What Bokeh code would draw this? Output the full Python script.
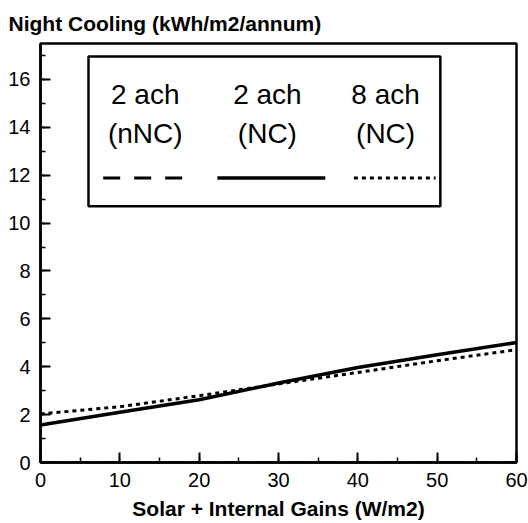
from bokeh.plotting import figure
from bokeh.models import Range1d, SingleIntervalTicker, BoxAnnotation, ColumnDataSource
from bokeh.core.properties import value
from bokeh.embed import file_html
from bokeh.resources import INLINE

# ---- data ----
gains = [0, 10, 20, 30, 40, 50, 60]
cooling_2ach_nnc = [0, 0, 0, 0, 0, 0, 0]
cooling_2ach_nc = [1.57, 2.1, 2.62, 3.32, 3.97, 4.5, 5.01]
cooling_8ach_nc = [2.03, 2.33, 2.79, 3.28, 3.76, 4.25, 4.71]

legend_top = ["2 ach", "2 ach", "8 ach"]
legend_bottom = ["(nNC)", "(NC)", "(NC)"]

# ---- layout of the hand-drawn key (data units) ----
key_box = dict(left=6.05, right=50.4, top=16.96, bottom=10.7)
key_col_x = [13.2, 28.6, 43.5]
key_row1_y = 15.36
key_row2_y = 13.76
key_line_y = 11.88
key_seg = [(7.9, 18.0), (22.3, 35.9), (39.5, 49.8)]

FONT = "Liberation Sans"

p = figure(width=528, height=523, output_backend="svg", toolbar_location=None,
           x_range=Range1d(0, 60), y_range=Range1d(0, 17.5),
           min_border_left=40, min_border_right=12, min_border_top=42,
           min_border_bottom=61)

p.title.text = "Night Cooling (kWh/m2/annum)"
p.title.text_font = FONT
p.title.text_font_size = "21px"
p.title.text_font_style = "bold"
p.title.text_color = "black"
p.title.align = "left"
p.title.offset = -32
p.title.standoff = 18

p.xgrid.visible = False
p.ygrid.visible = False
p.outline_line_color = "black"
p.outline_line_width = 2.5
p.outline_line_alpha = 1.0
p.background_fill_color = "white"
p.border_fill_color = "white"

for ax in (p.xaxis[0], p.yaxis[0]):
    ax.axis_line_width = 2.5
    ax.axis_line_color = "black"
    ax.major_tick_in = 10
    ax.major_tick_out = 0
    ax.minor_tick_in = 5
    ax.minor_tick_out = 0
    ax.major_tick_line_width = 2
    ax.minor_tick_line_width = 1.5
    ax.major_tick_line_color = "black"
    ax.minor_tick_line_color = "black"
    ax.major_label_text_font = FONT
    ax.major_label_text_font_size = "20px"
    ax.major_label_text_color = "black"

p.xaxis[0].ticker = SingleIntervalTicker(interval=10, num_minor_ticks=2)
p.yaxis[0].ticker = SingleIntervalTicker(interval=2, num_minor_ticks=2)
p.xaxis[0].major_label_standoff = 10
p.yaxis[0].major_label_standoff = 10

p.xaxis[0].axis_label = "Solar + Internal Gains (W/m2)"
p.xaxis[0].axis_label_text_font = FONT
p.xaxis[0].axis_label_text_font_size = "21px"
p.xaxis[0].axis_label_text_font_style = "bold"
p.xaxis[0].axis_label_text_color = "black"
p.xaxis[0].axis_label_standoff = 7

src = ColumnDataSource(dict(x=gains, nnc=cooling_2ach_nnc, nc2=cooling_2ach_nc, nc8=cooling_8ach_nc))
p.line("x", "nnc", source=src, line_color="black", line_width=2.5, line_dash="17 14")
p.line("x", "nc8", source=src, line_color="black", line_width=3, line_dash="4 4")
p.line("x", "nc2", source=src, line_color="black", line_width=3.5)

# key
p.add_layout(BoxAnnotation(left=key_box["left"], right=key_box["right"],
                           top=key_box["top"], bottom=key_box["bottom"],
                           fill_alpha=0.0, line_alpha=1.0,
                           line_color="black", line_width=2.5))
ksrc = ColumnDataSource(dict(x=key_col_x, t1=legend_top, t2=legend_bottom,
                             y1=[key_row1_y] * 3, y2=[key_row2_y] * 3))
p.text("x", "y1", text="t1", source=ksrc, text_align="center", text_baseline="alphabetic",
       text_font=value(FONT), text_font_size="28px", text_color="black")
p.text("x", "y2", text="t2", source=ksrc, text_align="center", text_baseline="alphabetic",
       text_font=value(FONT), text_font_size="28px", text_color="black")
dashes = ["17 14", "solid", "4 4"]
widths = [3, 3.5, 3]
for (x0, x1), d, w in zip(key_seg, dashes, widths):
    p.line([x0, x1], [key_line_y, key_line_y], line_color="black", line_width=w, line_dash=d)

open("out.html", "w").write(file_html(p, INLINE))
